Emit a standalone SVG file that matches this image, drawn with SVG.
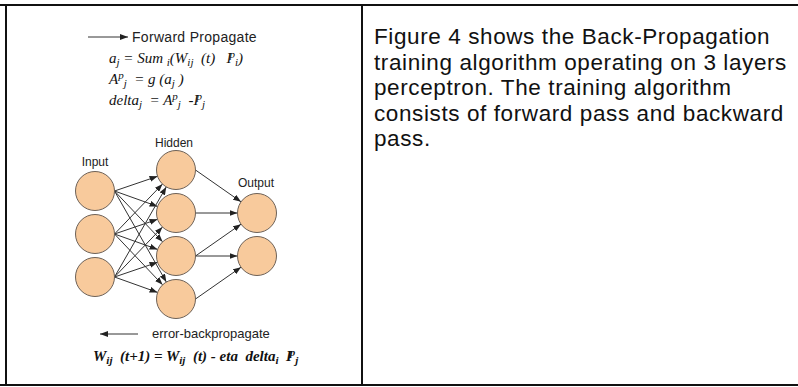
<svg xmlns="http://www.w3.org/2000/svg" width="798" height="387" viewBox="0 0 798 387">
<style>
.border{stroke:#111;stroke-width:2;fill:none}
.node{fill:#F8CA9C;stroke:#6d6157;stroke-width:1}
.lbl{font-family:"Liberation Sans",Arial,sans-serif;font-size:12px;fill:#222;text-anchor:middle}
.sans{font-family:"Liberation Sans",Arial,sans-serif;fill:#222}
.math{font-family:"Liberation Serif","Times New Roman",serif;font-style:italic;font-size:15px;fill:#111}
.s{font-size:11px}
.edge{stroke:#333;stroke-width:1;fill:none;marker-end:url(#ah)}
.body{font-family:"Liberation Sans",Arial,sans-serif;font-size:22.5px;letter-spacing:0.6px;fill:#111}
</style>
<defs>
<marker id="ah" markerUnits="userSpaceOnUse" markerWidth="8" markerHeight="6" refX="8" refY="3" orient="auto">
<path d="M0,0 L8,3 L0,6 z" fill="#222"/>
</marker>
</defs>
<g id="table">
<line class="border" x1="0" y1="5" x2="798" y2="5"/>
<line class="border" x1="0" y1="385" x2="798" y2="385"/>
<line class="border" x1="6" y1="4" x2="6" y2="386"/>
<line class="border" x1="362" y1="4" x2="362" y2="386"/>
</g>
<g id="forward-legend">
<line class="edge" x1="88" y1="37" x2="128" y2="37"/>
<text class="sans" x="132" y="42" font-size="14" letter-spacing="0.3">Forward Propagate</text>
</g>
<g id="formulas-top">
<text class="math" x="109" y="63" xml:space="preserve">a<tspan class="s" dy="3">j</tspan><tspan dy="-3"> = Sum </tspan><tspan class="s" dy="3">i</tspan><tspan dy="-3">(W</tspan><tspan class="s" dy="3">ij</tspan><tspan dy="-3">  (t)   I</tspan><tspan class="s" dy="-5" dx="-2">p</tspan><tspan class="s" dy="8">i</tspan><tspan dy="-3">)</tspan></text>
<text class="math" x="109" y="84" xml:space="preserve">A<tspan class="s" dy="-5">p</tspan><tspan class="s" dy="8">j</tspan><tspan dy="-3">  = g (a</tspan><tspan class="s" dy="3">j</tspan><tspan dy="-3"> )</tspan></text>
<text class="math" x="109" y="105" xml:space="preserve">delta<tspan class="s" dy="3">j</tspan><tspan dy="-3">  = A</tspan><tspan class="s" dy="-5">p</tspan><tspan class="s" dy="8">j</tspan><tspan dy="-3">  -I</tspan><tspan class="s" dy="-5" dx="-2">p</tspan><tspan class="s" dy="8">j</tspan></text>
</g>
<g id="connectors">
<line class="edge" x1="114.5" y1="191" x2="157.55" y2="176.3"/>
<line class="edge" x1="114.5" y1="191" x2="157.64" y2="206.43"/>
<line class="edge" x1="114.5" y1="191" x2="162.6" y2="241.83"/>
<line class="edge" x1="114.5" y1="191" x2="166.35" y2="282.05"/>
<line class="edge" x1="114.5" y1="234" x2="162.49" y2="184.06"/>
<line class="edge" x1="114.5" y1="234" x2="157.55" y2="219.3"/>
<line class="edge" x1="114.5" y1="234" x2="157.64" y2="249.43"/>
<line class="edge" x1="114.5" y1="234" x2="162.6" y2="284.83"/>
<line class="edge" x1="114.5" y1="277" x2="166.28" y2="186.91"/>
<line class="edge" x1="114.5" y1="277" x2="162.49" y2="227.06"/>
<line class="edge" x1="114.5" y1="277" x2="157.55" y2="262.3"/>
<line class="edge" x1="114.5" y1="277" x2="157.64" y2="292.43"/>
<line class="edge" x1="195.5" y1="170" x2="241.02" y2="201.83"/>
<line class="edge" x1="195.5" y1="213" x2="237.5" y2="213"/>
<line class="edge" x1="195.5" y1="256" x2="241.02" y2="224.17"/>
<line class="edge" x1="195.5" y1="256" x2="237.5" y2="256"/>
<line class="edge" x1="195.5" y1="299" x2="241.02" y2="267.17"/>
</g>
<g id="input-layer">
<text class="lbl" x="95" y="166">Input</text>
<circle id="in1" class="node" cx="95" cy="191" r="19.5"/>
<circle id="in2" class="node" cx="95" cy="234" r="19.5"/>
<circle id="in3" class="node" cx="95" cy="277" r="19.5"/>
</g>
<g id="hidden-layer">
<text class="lbl" x="174" y="147">Hidden</text>
<circle id="h1" class="node" cx="176" cy="170" r="19.5"/>
<circle id="h2" class="node" cx="176" cy="213" r="19.5"/>
<circle id="h3" class="node" cx="176" cy="256" r="19.5"/>
<circle id="h4" class="node" cx="176" cy="299" r="19.5"/>
</g>
<g id="output-layer">
<text class="lbl" x="256" y="187">Output</text>
<circle id="o1" class="node" cx="257" cy="213" r="19.5"/>
<circle id="o2" class="node" cx="257" cy="256" r="19.5"/>
</g>
<g id="backward-legend">
<line class="edge" x1="138" y1="334" x2="100" y2="334"/>
<text class="sans" x="152" y="338" font-size="13">error-backpropagate</text>
</g>
<g id="formula-bottom">
<text class="math" x="93" y="361" font-weight="bold" xml:space="preserve">W<tspan class="s" dy="3">ij</tspan><tspan dy="-3">  (t+1) = W</tspan><tspan class="s" dy="3">ij</tspan><tspan dy="-3">  (t) - eta  delta</tspan><tspan class="s" dy="3">i</tspan><tspan dy="-3">  I</tspan><tspan class="s" dy="-5" dx="-2">p</tspan><tspan class="s" dy="8">j</tspan></text>
</g>
<g id="description">
<text class="body" x="374" y="44">Figure 4 shows the Back-Propagation</text>
<text class="body" x="374" y="69.5">training algorithm operating on 3 layers</text>
<text class="body" x="374" y="95">perceptron. The training algorithm</text>
<text class="body" x="374" y="120.5">consists of forward pass and backward</text>
<text class="body" x="374" y="146">pass.</text>
</g>
</svg>
